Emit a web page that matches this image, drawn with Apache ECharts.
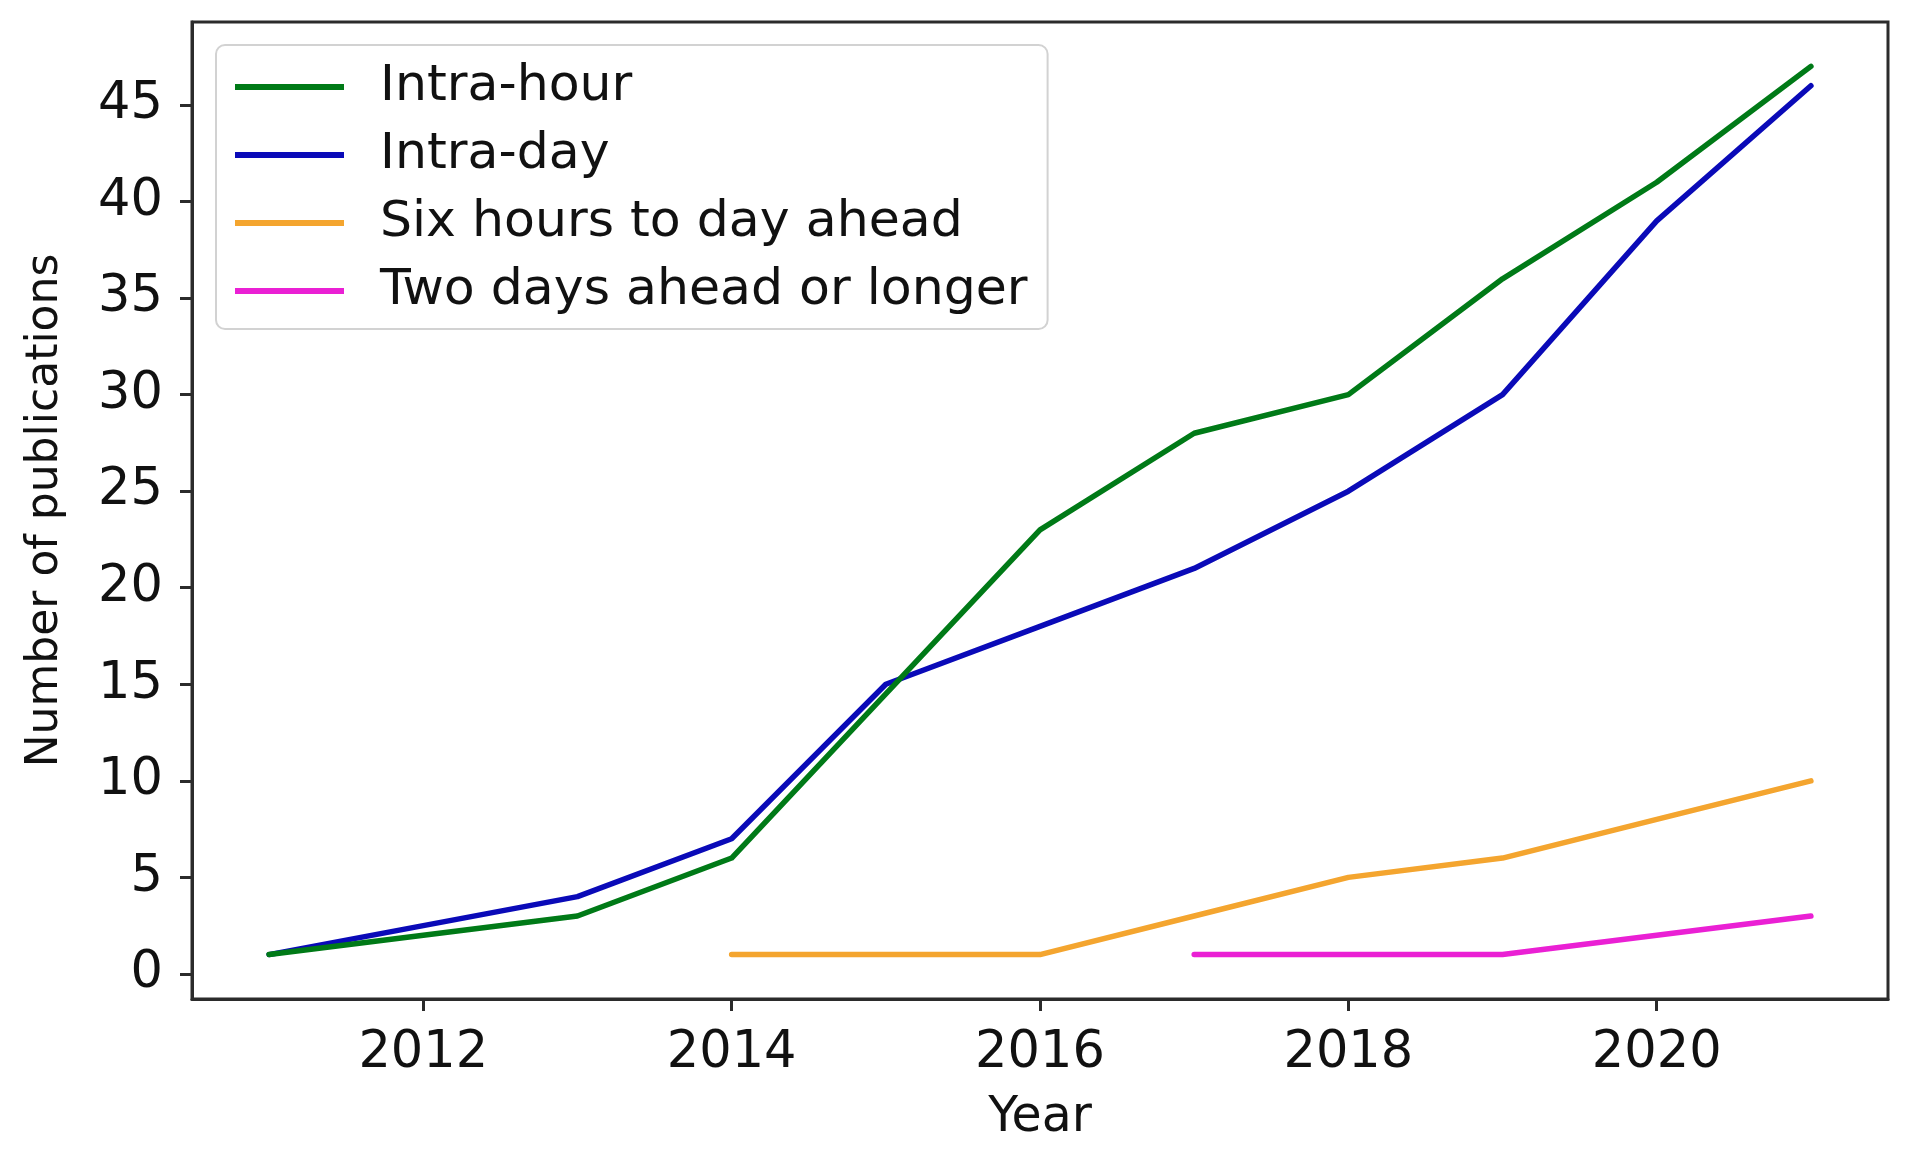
<!DOCTYPE html>
<html>
<head>
<meta charset="utf-8">
<script src="https://cdn.jsdelivr.net/npm/echarts@6/dist/echarts.min.js"></script>
<style>
html,body{margin:0;padding:0;background:#fff;}
#chart{width:1906px;height:1150px;}
</style>
</head>
<body>
<div id="chart"></div>
<script>
const years = [2011, 2012, 2013, 2014, 2015, 2016, 2017, 2018, 2019, 2020, 2021];
const intraHour = [1, 2, 3, 6, 14.5, 23, 28, 30, 36, 41, 47];
const intraDay = [1, 2.5, 4, 7, 15, 18, 21, 25, 30, 39, 46];
const sixHoursToDayAhead = [null, null, null, 1, 1, 1, 3, 5, 6, 8, 10];
const twoDaysAheadOrLonger = [null, null, null, null, null, null, 1, 1, 1, 2, 3];
const xTickLabels = [2012, 2014, 2016, 2018, 2020];
const yTickLabels = [0, 5, 10, 15, 20, 25, 30, 35, 40, 45];
const seriesNames = ['Intra-hour', 'Intra-day', 'Six hours to day ahead', 'Two days ahead or longer'];
const seriesColors = ['#007a17', '#0a0ab8', '#f4a52f', '#ea20d4'];

function pairs(vals) {
  return years.map((y, i) => [y, vals[i]]).filter(p => p[1] !== null);
}
const allValues = [intraHour, intraDay, sixHoursToDayAhead, twoDaysAheadOrLonger];

const FONT = 'DejaVu Sans';
const chart = echarts.init(document.getElementById('chart'), null, {renderer: 'canvas'});
chart.setOption({
  animation: false,
  backgroundColor: '#ffffff',
  grid: {
    left: 192, right: 18, top: 22, bottom: 151,
    show: true, borderColor: '#2b2b2b', borderWidth: 3, backgroundColor: 'transparent'
  },
  legend: {
    orient: 'vertical',
    left: 216, top: 45,
    padding: [8, 20, 4, 19],
    itemGap: 0,
    itemWidth: 109, itemHeight: 6,
    icon: 'rect',
    backgroundColor: '#ffffff',
    borderColor: '#d2d2d2', borderWidth: 2, borderRadius: 9,
    textStyle: {fontFamily: FONT, fontSize: 50.5, color: '#111', lineHeight: 68, padding: [0, 0, 0, 31]},
    data: seriesNames
  },
  xAxis: {
    type: 'value', min: 2010.5, max: 2021.5,
    name: 'Year', nameLocation: 'middle', nameGap: 95,
    nameTextStyle: {fontFamily: FONT, fontSize: 49, color: '#111'},
    axisLine: {show: true, onZero: false, lineStyle: {color: '#2b2b2b', width: 3}},
    axisTick: {show: true, customValues: xTickLabels, length: 12, lineStyle: {color: '#2b2b2b', width: 3}},
    axisLabel: {customValues: xTickLabels, fontFamily: FONT, fontSize: 51, color: '#111', margin: 29,
      formatter: v => String(v)},
    splitLine: {show: false}
  },
  yAxis: {
    type: 'value', min: -1.3, max: 49.3,
    name: 'Number of publications', nameLocation: 'middle', nameGap: 124, nameRotate: 90,
    nameTextStyle: {fontFamily: FONT, fontSize: 44, color: '#111'},
    axisLine: {show: true, onZero: false, lineStyle: {color: '#2b2b2b', width: 3}},
    axisTick: {show: true, customValues: yTickLabels, length: 12, lineStyle: {color: '#2b2b2b', width: 3}},
    axisLabel: {customValues: yTickLabels, fontFamily: FONT, fontSize: 51, color: '#111', margin: 29},
    splitLine: {show: false}
  },
  series: seriesNames.map((name, k) => ({
    name: name,
    type: 'line',
    data: pairs(allValues[k]),
    symbol: 'none',
    color: seriesColors[k],
    lineStyle: {color: seriesColors[k], width: 5.5, join: 'round', cap: 'round'},
    z: 10 - k
  }))
});
</script>
</body>
</html>
